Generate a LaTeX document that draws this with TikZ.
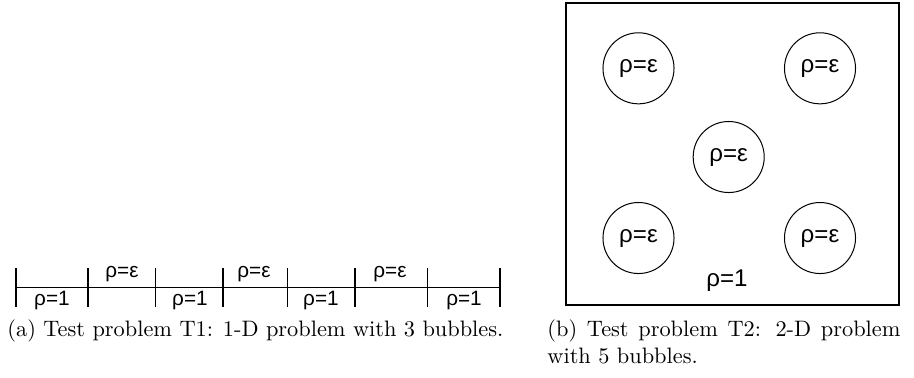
\documentclass[tikz,border=0pt]{standalone}
\usepackage{fontspec}
\newfontfamily\labfont{Liberation Sans}
\begin{document}
\begin{tikzpicture}[x=0.4476pt,y=-0.4476pt,
  bubble/.style={circle,draw,line width=0.45pt,minimum size=31.8pt,inner sep=0pt,
                 font=\labfont\fontsize{10.8}{13}\selectfont},
  boxlab/.style={inner sep=0pt,font=\labfont\fontsize{10.8}{13}\selectfont},
  lineab/.style={inner sep=0pt,font=\labfont\fontsize{9.3}{11}\selectfont},
  thintick/.style={line width=0.5pt},
  thicktick/.style={line width=0.9pt},
  axisline/.style={line width=0.6pt},
  domainbox/.style={line width=0.9pt},
  captext/.style={inner sep=0pt,font=\fontsize{10}{12}\selectfont}
]
\useasboundingbox (0,0) rectangle (914,377);

% ---------- (a) 1-D problem ----------
\coordinate (L) at (16,287.5);
\coordinate (R) at (500,287.5);
\draw[axisline] (L) -- (R);
\foreach \n/\x in {0/16,1/88.3,2/155.7,3/223.3,4/287.3,5/355,6/427.5,7/500}{
  \coordinate (t\n) at (\x,268);
  \coordinate (b\n) at (\x,306.5);
}
\foreach \n in {0,2,4,5,6,7}{ \draw[thintick] (t\n) -- (b\n); }
\foreach \n in {1,3}{ \draw[thicktick] (t\n) -- (b\n); }

\node[lineab,anchor=base] (e1) at (122,277) {ρ=ε};
\node[lineab,anchor=base] (e2) at (254,277) {ρ=ε};
\node[lineab,anchor=base] (e3) at (390,277) {ρ=ε};
\node[lineab,anchor=base] (o1) at (52,305.5) {ρ=1};
\node[lineab,anchor=base] (o2) at (190,305.5) {ρ=1};
\node[lineab,anchor=base] (o3) at (321,305.5) {ρ=1};
\node[lineab,anchor=base] (o4) at (464,305.5) {ρ=1};

\node[captext,anchor=base west] (capa) at (7,336.5)
  {(a) Test problem T1: 1-D problem with 3 bubbles.};

% ---------- (b) 2-D problem ----------
\coordinate (dTL) at (566,3);
\coordinate (dBR) at (898.5,305);
\draw[domainbox] (dTL) rectangle (dBR);
\node[bubble] (c1) at (638.5,68.3) {ρ=ε};
\node[bubble] (c2) at (820,68.3) {ρ=ε};
\node[bubble] (c3) at (728.7,157) {ρ=ε};
\node[bubble] (c4) at (638.5,238) {ρ=ε};
\node[bubble] (c5) at (820,238) {ρ=ε};
\node[boxlab] (bg) at (727,281) {ρ=1};

\node[captext,anchor=base west] (capb) at (547,336.5)
  {\parbox[t]{158pt}{(b) Test problem T2: 2-D problem with 5 bubbles.}};
\end{tikzpicture}
\end{document}
